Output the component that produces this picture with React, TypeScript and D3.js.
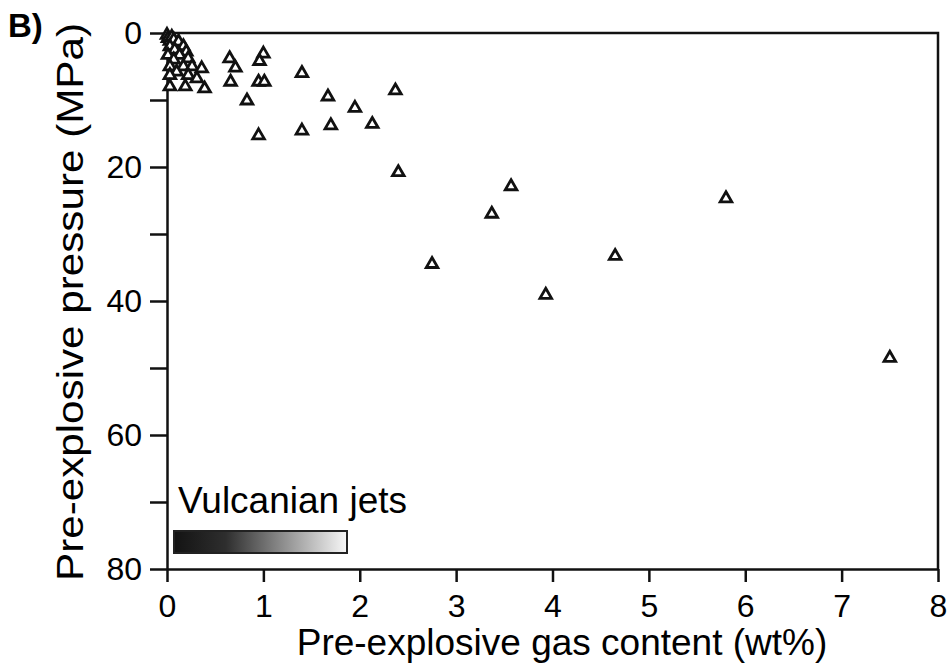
import { useEffect, useRef } from 'react';
import * as d3 from 'd3';

// Pre-explosive gas content (wt%) and pressure (MPa), Vulcanian jets
const gasContent = [
  0.0, 0.01, 0.03, 0.05, 0.07, 0.12, 0.17, 0.03, 0.08, 0.2, 0.01, 0.13, 0.22, 0.07, 0.03, 0.17, 0.26, 0.1,
  0.36, 0.03, 0.22, 0.31, 0.19, 0.03, 0.39, 0.65, 0.71, 0.66, 1.0, 0.96, 0.95, 1.01, 0.83, 0.95, 1.4, 1.67,
  1.95, 2.13, 1.7, 1.4, 2.37, 2.4, 3.57, 3.37, 5.8, 4.65, 2.75, 3.93, 7.5,
];
const pressure = [
  0.3, 0.8, 1.2, 0.6, 1.0, 1.3, 2.0, 2.0, 2.5, 2.8, 3.3, 3.3, 3.8, 4.0, 5.0, 5.0, 5.0, 5.8,
  5.3, 6.3, 6.3, 6.8, 8.0, 8.0, 8.3, 3.8, 5.2, 7.3, 3.1, 4.2, 7.3, 7.3, 10.1, 15.3, 6.0, 9.5,
  11.2, 13.6, 13.8, 14.6, 8.6, 20.8, 22.9, 27.0, 24.7, 33.3, 34.5, 39.1, 48.5,
];
const xTicks = [0, 1, 2, 3, 4, 5, 6, 7, 8];
const yTicks = [0, 10, 20, 30, 40, 50, 60, 70, 80];
const yTickLabels = [0, 20, 40, 60, 80];
const legendLabel = 'Vulcanian jets';

const font = 'Liberation Sans, Arial, Helvetica, sans-serif';

export default function App() {
  const svgRef = useRef<SVGSVGElement>(null);

  useEffect(() => {
    if (!svgRef.current) {
      return;
    }
    const svg = d3.select(svgRef.current);
    svg.selectAll('*').remove();

    const left = 167;
    const right = 938;
    const top = 33;
    const bottom = 569;

    const x = d3.scaleLinear().domain([0, 8]).range([left, right]);
    const y = d3.scaleLinear().domain([0, 80]).range([top, bottom]);

    // gradient for the legend bar
    const grad = svg
      .append('defs')
      .append('linearGradient')
      .attr('id', 'jetGrad')
      .attr('x1', '0%')
      .attr('x2', '100%');
    grad.append('stop').attr('offset', '0%').attr('stop-color', '#131313');
    grad.append('stop').attr('offset', '30%').attr('stop-color', '#2e2e2e');
    grad.append('stop').attr('offset', '60%').attr('stop-color', '#858585');
    grad.append('stop').attr('offset', '100%').attr('stop-color', '#f7f7f7');

    // frame (top + right)
    svg
      .append('path')
      .attr('d', `M${left},${top}H${right}V${bottom}`)
      .attr('fill', 'none')
      .attr('stroke', '#111')
      .attr('stroke-width', 2.5);

    const xAxis = svg
      .append('g')
      .attr('transform', `translate(0,${bottom})`)
      .call(
        d3
          .axisBottom(x)
          .tickValues(xTicks)
          .tickSize(13)
          .tickSizeOuter(0)
          .tickPadding(12)
          .tickFormat((d) => String(d)),
      );

    const yAxis = svg
      .append('g')
      .attr('transform', `translate(${left},0)`)
      .call(
        d3
          .axisLeft(y)
          .tickValues(yTicks)
          .tickSize(17)
          .tickSizeOuter(0)
          .tickPadding(8)
          .tickFormat((d) => (yTickLabels.includes(d as number) ? String(d) : '')),
      );

    [xAxis, yAxis].forEach((ax) => {
      ax.select('.domain').attr('stroke', '#111').attr('stroke-width', 2.5);
      ax.selectAll('.tick line').attr('stroke', '#111').attr('stroke-width', 2.5);
      ax.selectAll('.tick text')
        .attr('fill', '#000')
        .style('font-family', font)
        .style('font-size', '32px');
    });

    // points
    const tri = d3.symbol().type(d3.symbolTriangle).size(58);
    svg
      .append('g')
      .selectAll('path')
      .data(gasContent.map((g, i) => [g, pressure[i]]))
      .enter()
      .append('path')
      .attr('d', tri)
      .attr('transform', (d) => `translate(${x(d[0])},${y(d[1])})`)
      .attr('fill', '#fff')
      .attr('stroke', '#111')
      .attr('stroke-width', 2.8);

    // legend
    svg
      .append('text')
      .attr('x', 178)
      .attr('y', 513)
      .style('font-family', font)
      .style('font-size', '37px')
      .text(legendLabel);
    svg
      .append('rect')
      .attr('x', 174)
      .attr('y', 531)
      .attr('width', 173)
      .attr('height', 22)
      .attr('fill', 'url(#jetGrad)')
      .attr('stroke', '#222')
      .attr('stroke-width', 2);

    // titles
    svg
      .append('text')
      .attr('x', 562)
      .attr('y', 655)
      .attr('text-anchor', 'middle')
      .style('font-family', font)
      .style('font-size', '37px')
      .text('Pre-explosive gas content (wt%)');

    svg
      .append('text')
      .attr('transform', `translate(83,302)rotate(-90)`)
      .attr('text-anchor', 'middle')
      .attr('textLength', 558)
      .attr('lengthAdjust', 'spacingAndGlyphs')
      .style('font-family', font)
      .style('font-size', '36px')
      .text('Pre-explosive pressure (MPa)');

    svg
      .append('text')
      .attr('x', 8)
      .attr('y', 37)
      .style('font-family', font)
      .style('font-size', '33px')
      .style('font-weight', 'bold')
      .text('B)');
  }, []);

  return (
    <svg
      ref={svgRef}
      width={950}
      height={668}
      style={{ position: 'absolute', left: 0, top: 0, background: '#fff' }}
    />
  );
}
